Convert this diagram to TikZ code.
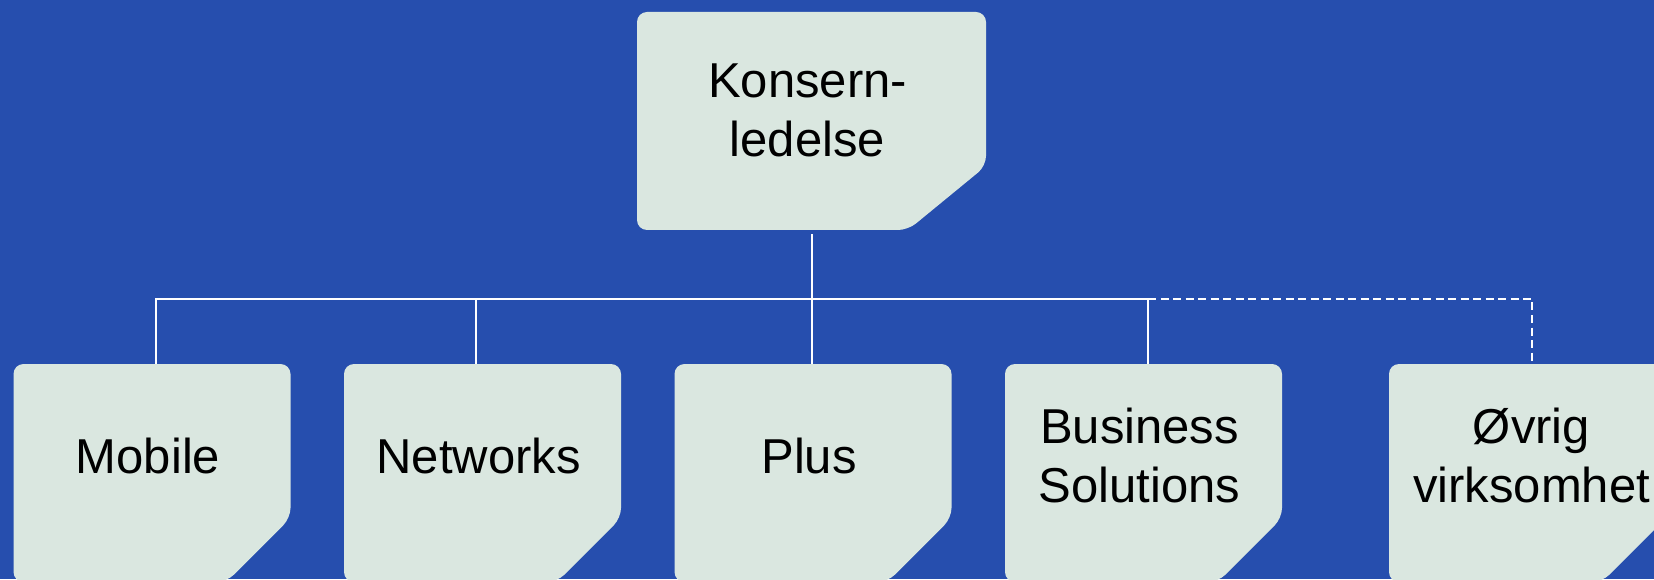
\documentclass[tikz,border=0pt]{standalone}
\usepackage{fontspec}
\setmainfont{Liberation Sans}
\definecolor{bgblue}{RGB}{38,78,174}
\definecolor{unitfill}{RGB}{218,231,224}
\tikzset{
  unit/.style={minimum width=277pt, minimum height=218pt, inner sep=0pt,
    path picture={\fill[unitfill,rounded corners=10pt]
      (path picture bounding box.north west) -- (path picture bounding box.north east)
      -- ([yshift=64pt]path picture bounding box.south east)
      -- ([xshift=-#1]path picture bounding box.south east)
      -- (path picture bounding box.south west) -- cycle;}},
  unit/.default=64pt,
  txt/.style={font=\fontsize{49}{59}\selectfont, align=center, inner sep=0pt, text=black, xshift=-4pt, yshift=17.5pt},
  link/.style={draw=white, line width=2pt},
  dashlink/.style={link, dash pattern=on 8pt off 4.5pt}
}
\begin{document}
\begin{tikzpicture}[x=1pt,y=1pt]
\useasboundingbox (0,0) rectangle (1654,579);
\clip (0,0) rectangle (1654,579);
\fill[bgblue] (0,0) rectangle (1654,579);

\node[unit=78pt, minimum width=349pt, label={[txt,yshift=-6.5pt]center:{Konsern-\\ledelse}}] (konsern) at (811.5,458) {};
\node[unit, label={[txt]center:Mobile}] (mobile) at (152,106) {};
\node[unit, label={[txt]center:Networks}] (networks) at (482.5,106) {};
\node[unit, label={[txt]center:Plus}] (plus) at (813,106) {};
\node[unit, label={[txt]center:{Business\\Solutions}}] (business) at (1143.5,106) {};
\node[unit, label={[txt,xshift=8pt]center:{Øvrig\\virksomhet}}] (ovrig) at (1527.5,106) {};
\coordinate (bus) at (812,280);

\draw[link, shorten <=4pt] (konsern.south) -- (konsern.south |- bus);
\draw[link] ([xshift=4pt]mobile.north) |- ([xshift=4.5pt]business.north |- bus) -- ([xshift=4.5pt]business.north);
\draw[link] ([xshift=-6.5pt]networks.north) -- ([xshift=-6.5pt]networks.north |- bus);
\draw[link] ([xshift=-1pt]plus.north) -- ([xshift=-1pt]plus.north |- bus);
\draw[dashlink] ([xshift=4.5pt]business.north |- bus) -| ([xshift=4.5pt]ovrig.north);
\end{tikzpicture}
\end{document}
